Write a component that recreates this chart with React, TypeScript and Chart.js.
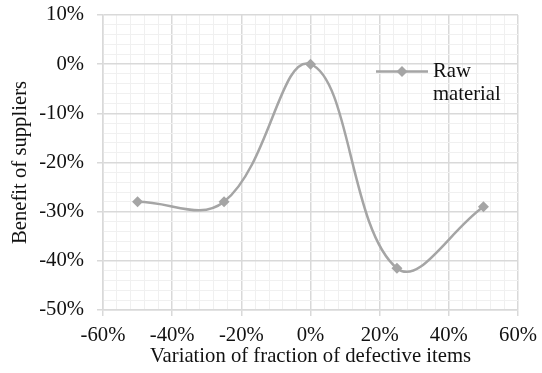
import React, { useEffect, useRef } from 'react';
import { Chart, registerables } from 'chart.js';

Chart.register(...registerables);

// ---- data ----
const variationValues = [-50, -25, 0, 25, 50]; // % variation of fraction of defective items
const rawMaterialBenefit = [-28, -28, 0, -41.5, -29]; // % benefit of suppliers
const seriesName = ['Raw', 'material'];
const xRange = [-60, 60];
const yRange = [-50, 10];
const xMajorStep = 20;
const xMinorStep = 4;
const yMajorStep = 10;
const yMinorStep = 2;
const xTitle = 'Variation of fraction of defective items';
const yTitle = 'Benefit of suppliers';

const FONT_FAMILY = "'Liberation Serif', 'Times New Roman', serif";
const FONT_SIZE = 20.7;
const LINE_COLOR = '#a5a5a5';
const MAJOR_GRID = '#d9d9d9';
const MINOR_GRID = '#f0f0f0';
const TEXT_COLOR = '#111111';

const isMajor = (v: number, step: number) => Math.abs(Math.round(v / step) * step - v) < 1e-6;

const fmtPct = (v: number) => `${Math.round(v) === 0 ? 0 : Math.round(v)}%`;

const legendPlugin = {
  id: 'wrappedLegend',
  afterDraw(chart: any) {
    const { ctx, chartArea } = chart;
    const x0 = chartArea.left + 273;
    const y0 = chartArea.top + 56.5;
    ctx.save();
    ctx.strokeStyle = LINE_COLOR;
    ctx.lineWidth = 2.5;
    ctx.beginPath();
    ctx.moveTo(x0, y0);
    ctx.lineTo(x0 + 52, y0);
    ctx.stroke();
    ctx.fillStyle = LINE_COLOR;
    const cx = x0 + 26;
    const r = 5.5;
    ctx.beginPath();
    ctx.moveTo(cx, y0 - r);
    ctx.lineTo(cx + r, y0);
    ctx.lineTo(cx, y0 + r);
    ctx.lineTo(cx - r, y0);
    ctx.closePath();
    ctx.fill();
    ctx.fillStyle = TEXT_COLOR;
    ctx.font = `${FONT_SIZE}px ${FONT_FAMILY}`;
    ctx.textAlign = 'left';
    ctx.textBaseline = 'middle';
    seriesName.forEach((line, i) => {
      ctx.fillText(line, x0 + 57, y0 + i * 23);
    });
    ctx.restore();
  },
};

export default function App() {
  const canvasRef = useRef<HTMLCanvasElement | null>(null);

  useEffect(() => {
    if (!canvasRef.current) return;
    const font = { family: FONT_FAMILY, size: FONT_SIZE };
    const chart = new Chart(canvasRef.current, {
      type: 'line',
      data: {
        datasets: [
          {
            label: seriesName.join(' '),
            data: variationValues.map((x, i) => ({ x, y: rawMaterialBenefit[i] })),
            borderColor: LINE_COLOR,
            backgroundColor: LINE_COLOR,
            borderWidth: 2.5,
            tension: 0.4,
            pointStyle: 'rectRot',
            pointRadius: 5.5,
            pointBorderWidth: 0,
            pointBackgroundColor: LINE_COLOR,
            fill: false,
          },
        ],
      },
      options: {
        animation: false,
        responsive: true,
        maintainAspectRatio: false,
        layout: { padding: { top: 0, right: 0, left: 0, bottom: 0 } },
        plugins: {
          legend: { display: false },
          tooltip: { enabled: false },
        },
        scales: {
          x: {
            type: 'linear',
            min: xRange[0],
            max: xRange[1],
            afterFit: (scale: any) => {
              scale.height = 63;
              scale.paddingLeft = 0;
              scale.paddingRight = 24;
            },
            ticks: {
              stepSize: xMinorStep,
              autoSkip: false,
              maxRotation: 0,
              padding: 7,
              color: TEXT_COLOR,
              font,
              callback: (v: any) => (isMajor(Number(v), xMajorStep) ? fmtPct(Number(v)) : ''),
            },
            grid: {
              color: (c: any) => (c.tick && isMajor(c.tick.value, xMajorStep) ? MAJOR_GRID : MINOR_GRID),
              tickColor: (c: any) => (c.tick && isMajor(c.tick.value, xMajorStep) ? MAJOR_GRID : 'rgba(0,0,0,0)'),
              lineWidth: (c: any) => (c.tick && isMajor(c.tick.value, xMajorStep) ? 1.5 : 1),
              tickLength: 6,
            },
            border: { color: MAJOR_GRID, width: 1.5 },
            title: {
              display: true,
              text: xTitle,
              color: TEXT_COLOR,
              font,
              padding: { top: 0, bottom: 4 },
            },
          },
          y: {
            type: 'linear',
            min: yRange[0],
            max: yRange[1],
            afterFit: (scale: any) => {
              scale.width = 103;
              scale.paddingTop = 15;
              scale.paddingBottom = 0;
            },
            ticks: {
              stepSize: yMinorStep,
              autoSkip: false,
              padding: 13,
              color: TEXT_COLOR,
              font,
              callback: (v: any) => (isMajor(Number(v), yMajorStep) ? fmtPct(Number(v)) : ''),
            },
            grid: {
              color: (c: any) => (c.tick && isMajor(c.tick.value, yMajorStep) ? MAJOR_GRID : MINOR_GRID),
              tickColor: (c: any) => (c.tick && isMajor(c.tick.value, yMajorStep) ? MAJOR_GRID : 'rgba(0,0,0,0)'),
              lineWidth: (c: any) => (c.tick && isMajor(c.tick.value, yMajorStep) ? 1.5 : 1),
              tickLength: 6,
            },
            border: { color: MAJOR_GRID, width: 1.5 },
            title: {
              display: true,
              text: yTitle,
              color: TEXT_COLOR,
              font,
              padding: { top: 8, bottom: 0 },
            },
          },
        },
      },
      plugins: [legendPlugin],
    } as any);
    return () => chart.destroy();
  }, []);

  return (
    <div style={{ position: 'absolute', left: 0, top: 0, width: 542, height: 373, background: '#fff' }}>
      <canvas ref={canvasRef} />
    </div>
  );
}
